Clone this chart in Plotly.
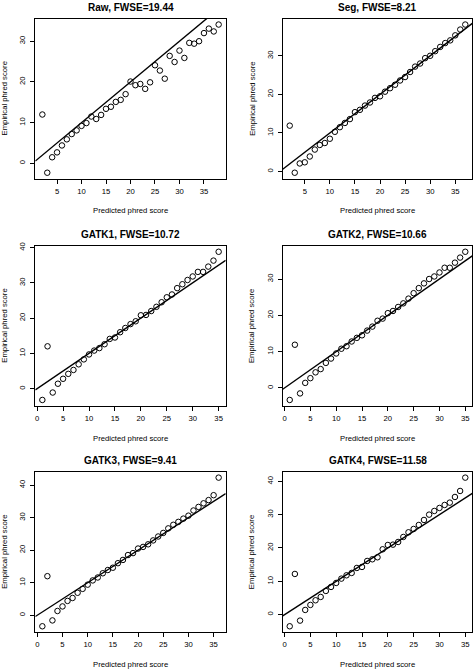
import plotly.graph_objects as go

# ---- data ----
titles = ["Raw, FWSE=19.44", "Seg, FWSE=8.21", "GATK1, FWSE=10.72",
          "GATK2, FWSE=10.66", "GATK3, FWSE=9.41", "GATK4, FWSE=11.58"]

raw_x = list(range(2, 39))
raw_y = [12.0, -2.3, 1.5, 2.7, 4.4, 5.9, 7.2, 8.1, 9.2, 9.9, 11.5, 10.9, 11.9,
         13.4, 13.9, 15.1, 15.6, 17.0, 20.1, 19.2, 19.5, 18.3, 19.9, 24.1, 22.8,
         20.8, 26.4, 24.9, 27.7, 25.9, 29.6, 29.4, 30.0, 32.0, 33.1, 32.4, 34.1]

seg_x = list(range(2, 38))
seg_y = [11.9, -0.3, 2.1, 2.4, 3.9, 5.7, 6.9, 7.4, 8.5, 10.3, 11.5, 12.6, 13.6,
         15.4, 16.0, 17.1, 17.9, 19.1, 19.5, 20.7, 21.6, 22.5, 23.6, 24.5, 25.8,
         27.2, 28.0, 29.4, 30.0, 31.2, 32.3, 33.3, 34.0, 35.3, 36.8, 38.1]

gatk1_x = list(range(1, 36))
gatk1_y = [-3.2, 12.0, -1.1, 1.4, 2.8, 4.2, 5.3, 6.9, 8.3, 9.7, 10.8, 11.5, 12.6,
           14.1, 14.5, 16.0, 17.2, 18.3, 19.1, 20.8, 20.9, 22.0, 23.2, 24.5, 25.9,
           26.7, 28.5, 29.6, 30.8, 31.8, 33.1, 33.1, 34.6, 36.3, 38.8]

gatk2_x = list(range(1, 36))
gatk2_y = [-3.3, 11.9, -1.5, 1.4, 2.7, 4.3, 5.2, 6.9, 8.1, 9.5, 10.8, 11.5, 12.8,
           13.8, 14.5, 15.8, 16.9, 18.5, 19.1, 20.6, 21.2, 22.3, 23.3, 24.6, 26.1,
           27.5, 28.8, 30.0, 30.7, 31.8, 33.1, 33.1, 34.5, 35.9, 37.5]

gatk3_x = list(range(1, 37))
gatk3_y = [-3.4, 12.0, -1.6, 1.3, 2.7, 4.4, 5.3, 6.9, 8.1, 9.4, 10.7, 11.6, 12.9,
           13.9, 14.6, 16.0, 17.0, 18.5, 19.1, 20.5, 21.0, 21.8, 23.0, 24.2, 25.3,
           26.7, 27.8, 28.7, 29.7, 30.6, 32.2, 33.3, 34.4, 35.4, 36.9, 42.3]

gatk4_x = list(range(1, 36))
gatk4_y = [-3.5, 12.2, -1.8, 1.4, 2.9, 4.3, 5.3, 7.1, 8.3, 9.5, 10.8, 11.8, 12.5,
           14.0, 14.3, 16.1, 16.6, 17.2, 19.6, 20.9, 21.0, 21.8, 23.3, 24.7, 25.7,
           26.9, 28.4, 30.0, 31.1, 32.0, 32.9, 33.6, 35.3, 37.1, 41.1]

xs = [raw_x, seg_x, gatk1_x, gatk2_x, gatk3_x, gatk4_x]
ys = [raw_y, seg_y, gatk1_y, gatk2_y, gatk3_y, gatk4_y]

# reference line y = intercept + slope * x
ref_intercept = 0.0
ref_slope = 1.0

x_label = "Predicted phred score"
y_label = "Empirical phred score"

# ---- layout geometry (pixels) ----
W, H = 473, 669
cols = [(35.3, 225.7), (282.7, 472.3)]
rows = [(14.7, 175.7), (243.3, 404.3), (470.5, 632.0)]

FONT = "Liberation Sans, Arial, Helvetica, sans-serif"
tick_font = dict(family=FONT, size=7.7, color="black")


def r_range(v):
    lo, hi = min(v), max(v)
    d = hi - lo
    return [lo - 0.04 * d, hi + 0.04 * d]


fig = go.Figure()
layout = dict(width=W, height=H, margin=dict(l=0, r=0, t=0, b=0),
              paper_bgcolor="white", plot_bgcolor="white", showlegend=False)
annotations = []

for i in range(6):
    r, c = divmod(i, 2)
    left, right = cols[c]
    top, bottom = rows[r]
    n = i + 1
    xa = "x" if n == 1 else f"x{n}"
    ya = "y" if n == 1 else f"y{n}"
    xr = r_range(xs[i])
    yr = r_range(ys[i])

    fig.add_trace(go.Scatter(
        x=xs[i], y=ys[i], mode="markers", xaxis=xa, yaxis=ya,
        marker=dict(symbol="circle-open", size=5.5, color="black",
                    line=dict(width=1, color="black")),
        hoverinfo="x+y"))
    lx = [xr[0], xr[1]]
    ly = [ref_intercept + ref_slope * v for v in lx]
    fig.add_trace(go.Scatter(
        x=lx, y=ly, mode="lines", xaxis=xa, yaxis=ya,
        line=dict(color="black", width=1.4), hoverinfo="skip"))

    common = dict(showgrid=False, zeroline=False, showline=True, mirror=True,
                  linecolor="black", linewidth=1, ticks="outside", ticklen=4,
                  tickwidth=1, tickcolor="black", tickfont=tick_font)
    layout["xaxis" if n == 1 else f"xaxis{n}"] = dict(
        domain=[left / W, right / W], anchor=ya, range=xr,
        tick0=0, dtick=5, ticklabelstandoff=1, **common)
    layout["yaxis" if n == 1 else f"yaxis{n}"] = dict(
        domain=[1 - bottom / H, 1 - top / H], anchor=xa, range=yr,
        tick0=0, dtick=10, tickangle=-90, ticklabelstandoff=2, **common)

    cx = (left + right) / 2 / W
    annotations.append(dict(
        text=f"<b>{titles[i]}</b>", x=cx, y=1 - (top - 11.5) / H,
        xref="paper", yref="paper", xanchor="center", yanchor="middle",
        showarrow=False, font=dict(family=FONT, size=10, color="black")))
    annotations.append(dict(
        text=x_label, x=cx, y=1 - (bottom + 32.5) / H,
        xref="paper", yref="paper", xanchor="center", yanchor="middle",
        showarrow=False, font=dict(family=FONT, size=7.7, color="black")))
    annotations.append(dict(
        text=y_label, x=(left - 30.5) / W, y=1 - (top + bottom) / 2 / H,
        xref="paper", yref="paper", xanchor="center", yanchor="middle",
        textangle=-90, showarrow=False,
        font=dict(family=FONT, size=7.7, color="black")))

layout["annotations"] = annotations
fig.update_layout(**layout)
fig.write_html(
    "out.html",
    config={"displayModeBar": False},
    post_script="document.body.style.margin='0';"
                "document.body.style.padding='0';"
                "document.body.style.overflow='hidden';")
